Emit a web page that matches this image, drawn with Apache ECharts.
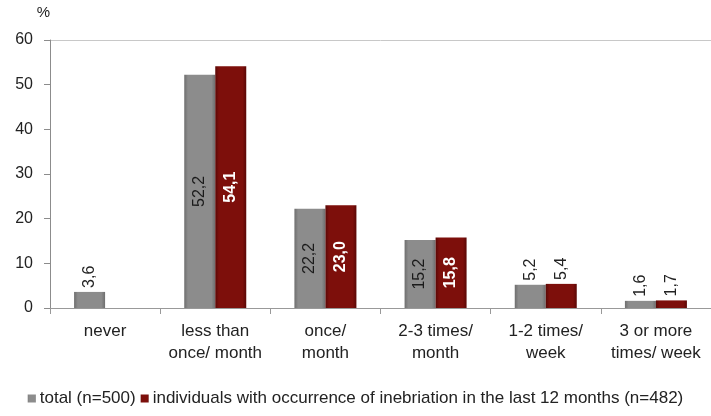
<!DOCTYPE html>
<html><head><meta charset="utf-8">
<script src="https://cdn.jsdelivr.net/npm/echarts@6/dist/echarts.min.js"></script>
<style>html,body{margin:0;padding:0;background:#fff}#c{width:711px;height:416px}</style>
</head><body><div id="c"></div>
<script>
const categories = ['never', 'less than\nonce/ month', 'once/\nmonth', '2-3 times/\nmonth', '1-2 times/\nweek', '3 or more\ntimes/ week'];
const totalValues = [3.6, 52.2, 22.2, 15.2, 5.2, 1.6];
const inebriationValues = [null, 54.1, 23.0, 15.8, 5.4, 1.7];
const yTicks = [0, 10, 20, 30, 40, 50, 60];
const seriesNames = ['total (n=500)', 'individuals with occurrence of inebriation in the last 12 months (n=482)'];

const FONT = '"Liberation Sans", "DejaVu Sans", sans-serif';
const fmt = v => v.toFixed(1).replace('.', ',');

function makeData(values, insideColor, insideBold) {
  return values.map(v => {
    if (v === null) return null;
    const inside = v >= 10;
    return {
      value: v,
      label: {
        show: true,
        rotate: 90,
        position: inside ? 'inside' : 'top',
        distance: 4,
        align: inside ? 'center' : 'left',
        verticalAlign: 'middle',
        color: inside ? insideColor : '#222',
        fontWeight: inside && insideBold ? 'bold' : 'normal',
        fontSize: 16,
        fontFamily: FONT,
        formatter: p => fmt(p.value)
      }
    };
  });
}

function barGrad(mid, dark) {
  return new echarts.graphic.LinearGradient(0, 0, 1, 0, [
    {offset: 0, color: dark}, {offset: 0.12, color: mid}, {offset: 0.88, color: mid}, {offset: 1, color: dark}
  ]);
}

const chart = echarts.init(document.getElementById('c'), null, {renderer: 'canvas'});
chart.setOption({
  animation: false,
  grid: {left: 50, right: 0, top: 40, bottom: 108},
  legend: {
    bottom: 4, left: 'center', itemWidth: 8, itemHeight: 8, itemGap: 5,
    icon: 'rect',
    textStyle: {fontFamily: FONT, fontSize: 17, color: '#222', padding: [0, 0, 0, -1]},
    data: seriesNames
  },
  xAxis: {
    type: 'category', data: categories,
    axisLine: {lineStyle: {color: '#999'}},
    axisTick: {show: true, alignWithLabel: false, length: 6, lineStyle: {color: '#999'}},
    axisLabel: {fontFamily: FONT, fontSize: 17, color: '#222', margin: 12, lineHeight: 22, interval: 0}
  },
  yAxis: {
    type: 'value', min: yTicks[0], max: yTicks[yTicks.length - 1], interval: 10,
    name: '%', nameLocation: 'end', nameGap: 20,
    nameTextStyle: {fontFamily: FONT, fontSize: 15, color: '#222', align: 'right'},
    axisLine: {show: true, lineStyle: {color: '#8c8c8c'}},
    axisTick: {show: true, length: 6, lineStyle: {color: '#8c8c8c'}},
    axisLabel: {fontFamily: FONT, fontSize: 16, color: '#222', margin: 17},
    splitLine: {show: true, lineStyle: {color: ['transparent','transparent','transparent','transparent','transparent','transparent','#c8c8c8']}}
  },
  series: [
    {
      name: seriesNames[0], type: 'bar', barWidth: 31, barGap: '0%',
      itemStyle: {color: barGrad('#8c8c8c', '#6e6e6e')},
      data: makeData(totalValues, '#1a1a1a', false)
    },
    {
      name: seriesNames[1], type: 'bar', barWidth: 31, barGap: '0%',
      itemStyle: {color: barGrad('#7d0f0b', '#5a0806')},
      data: makeData(inebriationValues, '#ffffff', true)
    }
  ]
});
</script>
</body></html>
